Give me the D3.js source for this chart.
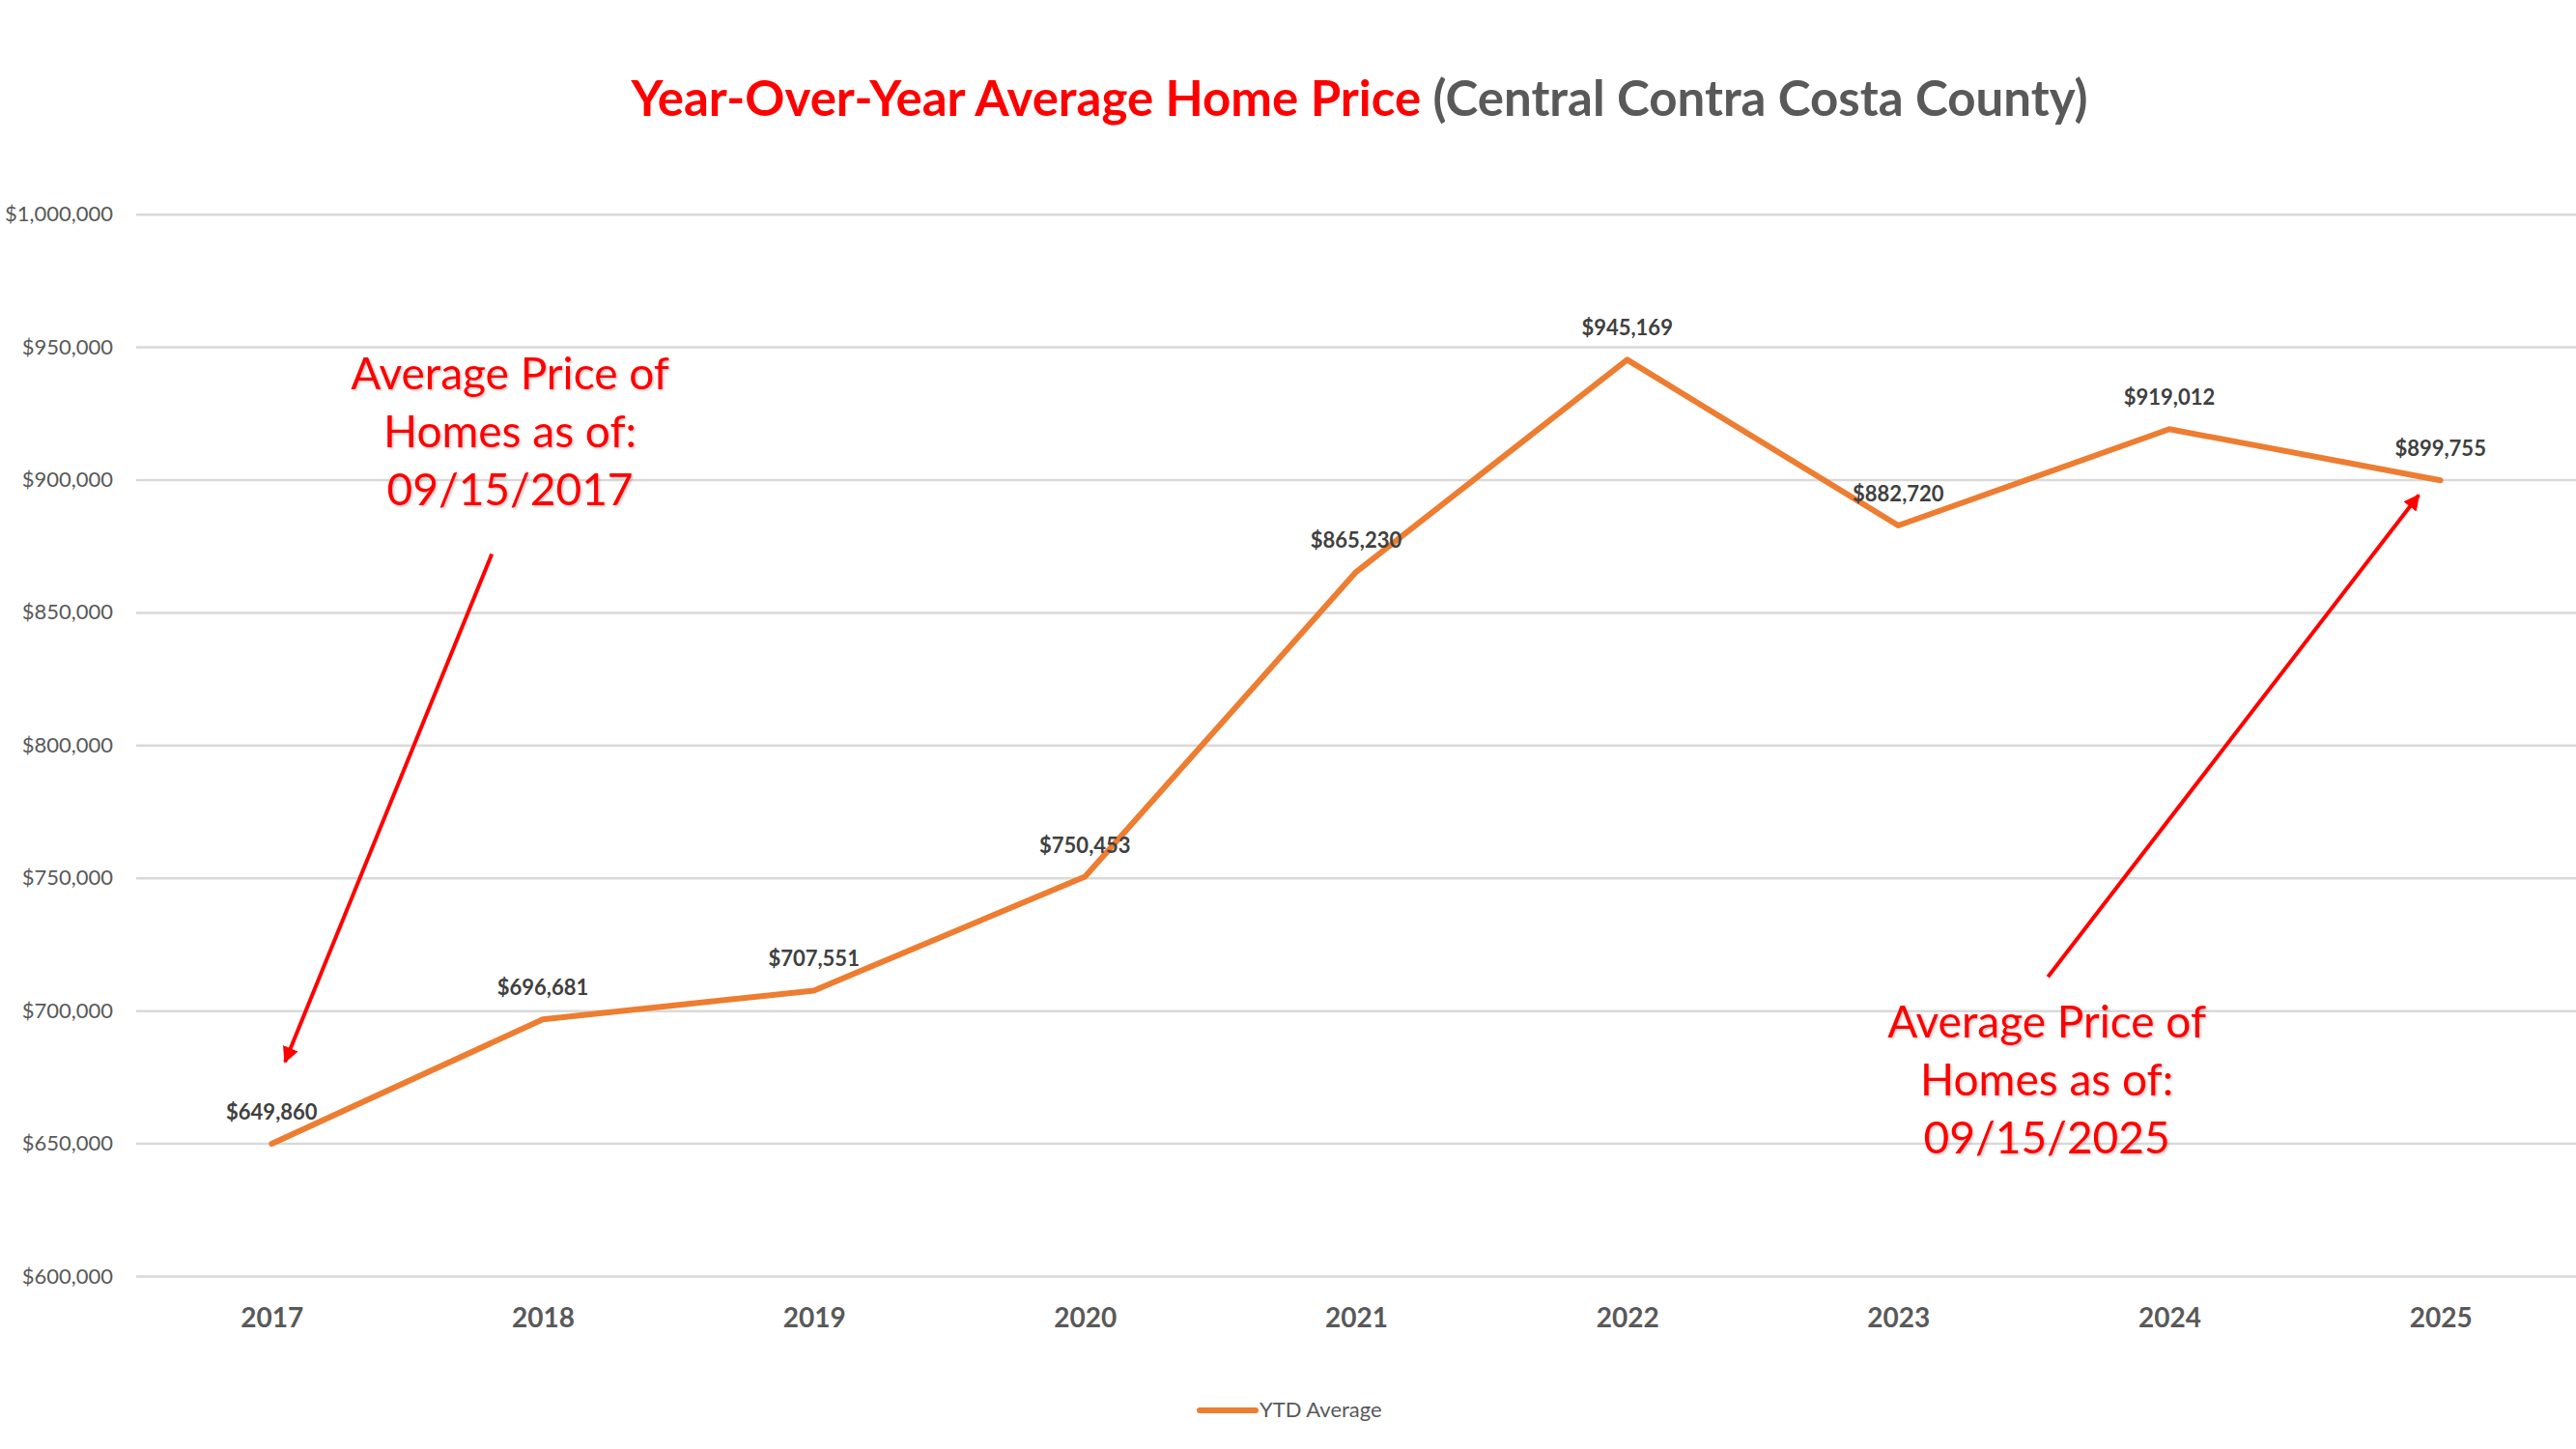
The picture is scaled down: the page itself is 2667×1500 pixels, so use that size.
<!DOCTYPE html>
<html>
<head>
<meta charset="utf-8">
<script src="https://cdn.jsdelivr.net/npm/d3@7"></script>
<style>
  html, body { margin: 0; padding: 0; background: #fff; }
  svg { display: block; }
</style>
</head>
<body>
<svg id="chart" width="2667" height="1500"></svg>
<script>
// ---------------- data ----------------
const years = ["2017", "2018", "2019", "2020", "2021", "2022", "2023", "2024", "2025"];
const ytdAverage = [649860, 696681, 707551, 750453, 865230, 945169, 882720, 919012, 899755];
const yTicks = [600000, 650000, 700000, 750000, 800000, 850000, 900000, 950000, 1000000];
const seriesName = "YTD Average";
const titleRed = "Year-Over-Year Average Home Price";
const titleGray = " (Central Contra Costa County)";
const noteLeftLines = ["Average Price of", "Homes as of:", "09/15/2017"];
const noteRightLines = ["Average Price of", "Homes as of:", "09/15/2025"];
// annotation anchors in data space (year, price)
const noteLeftAnchor = [2017.879, 934200];
const noteRightAnchor = [2023.548, 689800];
const arrowLeft = [[2017.812, 872000], [2017.049, 680700]];
const arrowRight = [[2023.552, 712700], [2024.92, 894200]];

// ---------------- layout ----------------
const W = 2667, H = 1500;
const plot = { left: 141, right: 2667, top: 221.7, bottom: 1321 };
const FONT = "Lato, 'Open Sans', 'Noto Sans', sans-serif";
const svg = d3.select("#chart");

const x = d3.scalePoint().domain(years).range([plot.left, plot.right]).padding(0.5);
const y = d3.scaleLinear().domain([600000, 1000000]).range([plot.bottom, plot.top]);
const xYear = d3.scaleLinear().domain([2017, 2025]).range([x("2017"), x("2025")]);

const defs = svg.append("defs");
const sh = defs.append("filter").attr("id", "shadow").attr("x", "-10%").attr("y", "-10%").attr("width", "130%").attr("height", "130%");
sh.append("feDropShadow").attr("dx", 1.5).attr("dy", 1.5).attr("stdDeviation", 1.2)
  .attr("flood-color", "#000").attr("flood-opacity", 0.22);

defs.append("marker").attr("id", "arrowhead")
  .attr("viewBox", "0 0 10 10").attr("refX", 9).attr("refY", 5)
  .attr("markerWidth", 4.2).attr("markerHeight", 4.2).attr("orient", "auto")
  .append("path").attr("d", "M0,0 L10,5 L0,10 Z").attr("fill", "#ff0000");

// ---------------- title ----------------
const title = svg.append("text")
  .attr("x", W / 2 + 74).attr("y", 120)
  .attr("text-anchor", "middle")
  .style("font-family", FONT).style("font-weight", 700).style("font-size", "51px");
title.append("tspan").attr("fill", "#ff0000").text(titleRed);
title.append("tspan").attr("fill", "#595959").text(titleGray);

// ---------------- y axis / gridlines ----------------
const yAxis = d3.axisLeft(y).tickValues(yTicks)
  .tickFormat(d => "$" + d3.format(",")(d))
  .tickSizeInner(-(plot.right - plot.left)).tickSizeOuter(0).tickPadding(24);
const gy = svg.append("g").attr("transform", `translate(${plot.left},0)`).call(yAxis);
gy.select(".domain").remove();
gy.selectAll(".tick line").attr("stroke", "#d9d9d9").attr("stroke-width", 2.5);
gy.selectAll(".tick text").attr("fill", "#595959")
  .style("font-family", FONT).style("font-size", "22px");

// ---------------- x axis ----------------
const xAxis = d3.axisBottom(x).tickSize(0).tickPadding(33);
const gx = svg.append("g").attr("transform", `translate(0,${plot.bottom})`).call(xAxis);
gx.select(".domain").remove();
gx.selectAll(".tick text").attr("fill", "#595959")
  .style("font-family", FONT).style("font-weight", 700).style("font-size", "28px");

// ---------------- line ----------------
const data = years.map((yr, i) => ({ year: yr, value: ytdAverage[i] }));
const line = d3.line().x(d => x(d.year)).y(d => y(d.value));
svg.append("path").datum(data)
  .attr("d", line).attr("fill", "none")
  .attr("stroke", "#ed7d31").attr("stroke-width", 6)
  .attr("stroke-linejoin", "round").attr("stroke-linecap", "round");

// ---------------- data labels ----------------
svg.append("g").selectAll("text").data(data).join("text")
  .attr("x", d => x(d.year)).attr("y", d => y(d.value) - 25)
  .attr("text-anchor", "middle").attr("fill", "#404040")
  .style("font-family", FONT).style("font-weight", 700).style("font-size", "22px")
  .text(d => "$" + d3.format(",")(d.value));

// ---------------- annotations ----------------
function note(lines, anchor) {
  const t = svg.append("text")
    .attr("x", xYear(anchor[0])).attr("y", y(anchor[1]))
    .attr("text-anchor", "middle").attr("fill", "#ff0000")
    .attr("filter", "url(#shadow)")
    .style("font-family", FONT).style("font-size", "46px");
  lines.forEach((l, i) => {
    t.append("tspan").attr("x", xYear(anchor[0])).attr("dy", i === 0 ? 0 : 60).text(l);
  });
}
note(noteLeftLines, noteLeftAnchor);
note(noteRightLines, noteRightAnchor);

function arrow(pts) {
  svg.append("line")
    .attr("x1", xYear(pts[0][0])).attr("y1", y(pts[0][1]))
    .attr("x2", xYear(pts[1][0])).attr("y2", y(pts[1][1]))
    .attr("stroke", "#ff0000").attr("stroke-width", 4)
    .attr("marker-end", "url(#arrowhead)");
}
arrow(arrowLeft);
arrow(arrowRight);

// ---------------- legend ----------------
const lg = svg.append("g");
lg.append("line").attr("x1", 1242).attr("x2", 1300).attr("y1", 1460).attr("y2", 1460)
  .attr("stroke", "#ed7d31").attr("stroke-width", 6).attr("stroke-linecap", "round");
lg.append("text").attr("x", 1304).attr("y", 1467)
  .attr("fill", "#595959").style("font-family", FONT).style("font-size", "22px")
  .text(seriesName);
</script>
</body>
</html>
